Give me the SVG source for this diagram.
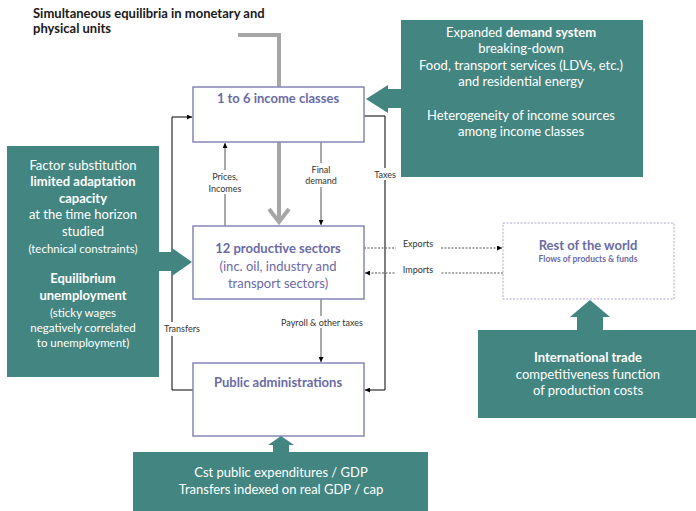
<svg xmlns="http://www.w3.org/2000/svg" width="696" height="511" viewBox="0 0 696 511">
<style>
text{font-family:Lato,"Liberation Sans",sans-serif}
.node{fill:#fff;stroke:#8686b8;stroke-width:1.5}
.ttl{fill:#6a6aa6;font-weight:bold;font-size:13px;text-anchor:middle}
.sub{fill:#6a6aa6;font-size:13px;text-anchor:middle}
.teal{fill:#438681}
.tw{fill:#fff;font-size:13px;text-anchor:middle}
.tws{fill:#fff;font-size:11.5px;text-anchor:middle}
.b{font-weight:bold}
.lbl{fill:#333;font-size:9px;text-anchor:middle}
.ln{stroke:#000;stroke-width:1;fill:none}
.lg{stroke:#555;stroke-width:1;fill:none}
.dot{stroke:#555;stroke-width:1;fill:none;stroke-dasharray:2,1.5}
.bg{fill:#fff}
</style>
<defs>
<marker id="ah" viewBox="0 0 10 10" refX="10" refY="5" markerWidth="5" markerHeight="5" orient="auto"><path d="M0,0 L10,5 L0,10 z" fill="#000"/></marker>
</defs>
<text x="33" y="18" font-size="13" font-weight="bold" fill="#1a1a1a">Simultaneous equilibria in monetary and</text>
<text x="33" y="33" font-size="13" font-weight="bold" fill="#1a1a1a">physical units</text>

<g id="connectors">
<path d="M238 35 H279 V87" stroke="#a6a6a6" stroke-width="4" fill="none"/>
<path d="M279 142 V222" stroke="#a6a6a6" stroke-width="4" fill="none"/>
<path d="M269 209 L279 222 L289 209" stroke="#a6a6a6" stroke-width="4" fill="none" stroke-linejoin="miter"/>
<path d="M225 226 V143" class="lg" marker-end="url(#ah)"/>
<path d="M321 142 V225" class="lg" marker-end="url(#ah)"/>
<path d="M364 116 H385 V390 H365" class="ln" marker-end="url(#ah)"/>
<path d="M193 390 H172 V117 H192" class="ln" marker-end="url(#ah)"/>
<path d="M321 299 V362" class="lg" marker-end="url(#ah)"/>
<path d="M364 248 H502" class="dot" marker-end="url(#ah)"/>
<path d="M503 273 H365" class="dot" marker-end="url(#ah)"/>
<rect x="205" y="170" width="40" height="24" class="bg"/>
<text x="225" y="180" class="lbl">Prices,</text>
<text x="225" y="192" class="lbl">Incomes</text>
<rect x="302" y="163" width="38" height="24" class="bg"/>
<text x="321" y="173" class="lbl">Final</text>
<text x="321" y="184" class="lbl">demand</text>
<rect x="372" y="168" width="26" height="12" class="bg"/>
<text x="385" y="178" class="lbl">Taxes</text>
<rect x="163" y="322" width="38" height="14" class="bg"/>
<text x="182" y="332" class="lbl">Transfers</text>
<rect x="277" y="316" width="90" height="12" class="bg"/>
<text x="322" y="326" class="lbl">Payroll &amp; other taxes</text>
<rect x="396" y="238" width="44" height="12" class="bg"/>
<text x="418" y="247" class="lbl">Exports</text>
<rect x="396" y="264" width="44" height="12" class="bg"/>
<text x="418" y="273" class="lbl">Imports</text>
</g>

<g id="income">
<rect x="193" y="87" width="171" height="55" class="node"/>
<text x="278" y="103" class="ttl">1 to 6 income classes</text>
</g>
<g id="sectors">
<rect x="193" y="226" width="171" height="73" class="node"/>
<text x="278" y="253" class="ttl">12 productive sectors</text>
<text x="278" y="271" class="sub">(inc. oil, industry and</text>
<text x="278" y="288" class="sub">transport sectors)</text>
</g>
<g id="public">
<rect x="193" y="363" width="171" height="73" class="node"/>
<text x="278" y="387" class="ttl">Public administrations</text>
</g>
<g id="row">
<rect x="503" y="223" width="171" height="76" fill="#fff" stroke="#a8a8cc" stroke-width="1" stroke-dasharray="2,1.5"/>
<text x="588" y="250" class="ttl">Rest of the world</text>
<text x="588" y="262" fill="#6a6aa6" font-size="8.5" font-weight="bold" text-anchor="middle">Flows of products &amp; funds</text>
</g>

<g id="demand">
<rect x="401" y="20" width="242" height="157" class="teal"/>
<path d="M401 89 H388 V85 L366 99 L388 113 V108 H401 z" class="teal"/>
<text x="521" y="37" class="tw">Expanded <tspan class="b">demand system</tspan></text>
<text x="521" y="53" class="tw">breaking-down</text>
<text x="521" y="70" class="tw">Food, transport services (LDVs, etc.)</text>
<text x="521" y="86" class="tw">and residential energy</text>
<text x="521" y="120" class="tw">Heterogeneity of income sources</text>
<text x="521" y="136" class="tw">among income classes</text>
</g>
<g id="factor">
<rect x="7" y="146" width="152" height="231" class="teal"/>
<path d="M159 252 H172 V248 L192 262 L172 276 V271 H159 z" class="teal"/>
<text x="83" y="170" class="tw">Factor substitution</text>
<text x="83" y="186" class="tw b">limited adaptation</text>
<text x="83" y="203" class="tw b">capacity</text>
<text x="83" y="219" class="tw">at the time horizon</text>
<text x="83" y="236" class="tw">studied</text>
<text x="83" y="253" class="tws">(technical constraints)</text>
<text x="83" y="283" class="tw b">Equilibrium</text>
<text x="83" y="300" class="tw b">unemployment</text>
<text x="83" y="317" class="tws">(sticky wages</text>
<text x="83" y="332" class="tws">negatively correlated</text>
<text x="83" y="347" class="tws">to unemployment)</text>
</g>
<g id="trade">
<rect x="478" y="330" width="218" height="88" class="teal"/>
<path d="M577 330 V317 H570 L590 300 L610 317 H603 V330 z" class="teal"/>
<text x="588" y="362" class="tw b">International trade</text>
<text x="588" y="379" class="tw">competitiveness function</text>
<text x="588" y="395" class="tw">of production costs</text>
</g>
<g id="gov">
<rect x="133" y="452" width="295" height="59" class="teal"/>
<path d="M273 452 V445 H268 L281 436 L294 445 H289 V452 z" class="teal"/>
<text x="281" y="477" class="tw">Cst public expenditures / GDP</text>
<text x="281" y="494" class="tw">Transfers indexed on real GDP / cap</text>
</g>
</svg>
